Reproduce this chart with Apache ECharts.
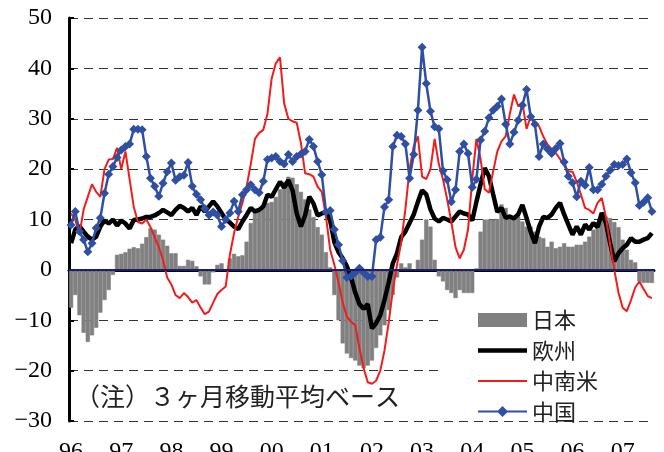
<!DOCTYPE html>
<html>
<head>
<meta charset="utf-8">
<script src="https://cdn.jsdelivr.net/npm/echarts@6/dist/echarts.min.js"></script>
<style>
  html, body { margin: 0; padding: 0; background: #fff; }
  #chart { width: 664px; height: 452px; }
</style>
</head>
<body>
<div id="chart"></div>
<script>
// 月次、96年1月〜07年8月（3ヶ月移動平均、前年比 %）
const yearLabels = ['96', '97', '98', '99', '00', '01', '02', '03', '04', '05', '06', '07']
const yTicks = [-30, -20, -10, 0, 10, 20, 30, 40, 50]

const japan = [
  -7.5, -5, -9, -12.5, -14.3, -13, -11.5, -8.5, -6, -4, -1, 3.0,
  3.2, 3.5, 4.2, 4.5, 4.3, 5.2, 6.5, 8.3, 8, 7, 6, 4.8,
  3.3, 3.3, 0.8, 0.8, 2, 1.8, 0.7, -1.3, -2.9, -2.9, -0.5, 1,
  1.3, 0.1, 2.3, 3.2, 2.7, 2.9, 5.6, 9.3, 11.4, 11.6, 12.9, 13.3,
  13.5, 14.5, 16, 17.5, 18.5, 18.3, 17, 15.5, 14, 12, 10.5, 8.5,
  7, 3.5, 0.5, -5, -10, -14.6, -16.6, -17.5, -18, -19, -19.5, -19,
  -18, -15.5, -13, -11, -8, -5, -1.5, 1.3, 0.5, 1.3, 0, 2,
  6, 10, 8.6, 2, -1.3, -2.3, -4, -4.6, -5.6, -4, -4.6, -4.6,
  -4.6, 0.3, 7.6, 10, 10, 10, 10.1, 13, 12.3, 10.6, 10.6, 10.6,
  9.6, 8.6, 8.6, 7.6, 6.6, 6.3, 4.6, 5.6, 4.3, 4.6, 5.3, 4.6,
  4.6, 5, 5, 5.6, 6.6, 8, 9.5, 10.6, 10.6, 10.3, 9.5, 8.5,
  6, 4, 2, 1.5, -2.3, -2.6, -2.6, -2.6
]
const europe = [
  5.3, 8, 8.7, 7.6, 6.6, 6, 6.6, 8.6, 9.8, 9.2, 10, 8.8,
  9.8, 9.2, 8.2, 9.9, 10, 10.2, 10.5, 10.5, 10.8, 11.3, 11.9, 11.4,
  10.9, 11.9, 12.7, 12.3, 11.6, 12.3, 10.9, 12.6, 11.6, 12.6, 13.6, 12.6,
  11.3, 10, 9.4, 8.6, 8.1, 9.6, 10.9, 12.3, 11.6, 11.9, 12.6, 14.9,
  14.5, 16, 17.5, 16.3, 17.8, 15.8, 11.2, 8.6, 10.8, 14.5, 13.2, 10.8,
  11.2, 11.5, 9.8, 5.5, 3.5, 2.3, 0.7, -1.5, -4.5, -6.8, -7.7, -6.8,
  -11.6, -10.6, -9, -6, -2.5, 1.3, 3.3, 6.5, 7.6, 9.3, 11, 13.5,
  15.8, 15, 12, 10.2, 9.6, 10.3, 10, 9.6, 10.6, 11.6, 11.2, 11,
  9.8, 13.5, 17, 20.2, 18.6, 15, 11.5, 12.3, 10.3, 10.6, 10.2, 11,
  12.9, 10.3, 7.5, 5.3, 8.6, 10.5, 10.3, 11, 12.3, 13.3, 11, 9,
  7, 8.6, 7, 9, 8, 9.3, 8.5, 11.3, 9.3, 5.3, 1.7, 3.3,
  4.3, 5, 6.3, 5.6, 5.6, 6, 6.3, 7.3
]
const latam = [
  11.2, 10, 7, 12, 14.5, 17, 15.5, 14.5, 20, 21.9, 22, 24.2,
  20, 23.5, 18, 12.5, 9.5, 9.2, 10, 8.5, 6.5, 4.5, 2, -1.5,
  -2.9, -5, -5.6, -4.6, -5.4, -6.5, -6, -7.5, -8.8, -8.3, -6.5, -4.8,
  -4, -3.3, 3, 7.3, 10.5, 13.3, 16.5, 21, 26, 27.2, 27.8, 31,
  38, 41, 42.2, 33, 30, 29.5, 29.2, 25.2, 19.2, 19, 18.5, 16.5,
  15.5, 10.5, 4, 1, -2.5, -6.5, -9.3, -10.3, -11, -15.5, -19.5, -22.3,
  -22.6, -22, -20, -16, -10.5, -4, 1, 5.5, 12, 20, 24.5, 26.5,
  18.5, 18, 20, 26, 21, 18, 14, 9.5, 4.5, 2.3, 4, 8,
  18, 26, 22, 16, 15.3, 19.5, 23.5, 25.5, 26.5, 31, 34.8, 32.5,
  33.2, 28, 30.5, 29.2, 28.5, 26.5, 24.9, 24, 23.2, 22, 20.7, 19.6,
  19.5, 17.5, 15, 12.3, 11.9, 11.2, 13.3, 14.3, 10.5, 5, 0, -4.5,
  -7.5, -8.2, -6, -3.5, -2.3, -3.8, -5.2, -5.6
]
const china = [
  8.9, 11.6, 7.6, 6, 3.6, 5.3, 8.3, 10.3, 15.2, 19, 20.5, 22.3,
  23.8, 24.5, 25, 27.9, 27.9, 27.8, 22.5, 18.2, 16.6, 14.6, 17.2, 19.5,
  21.2, 17.8, 18.5, 18.8, 21.3, 16.6, 15, 13.9, 12.2, 10.9, 11.5, 10.9,
  8.6, 10, 11.3, 13.6, 11.6, 14.9, 15.9, 16.9, 15.9, 15.3, 17.6, 21.9,
  22.2, 22.5, 21.5, 21, 22.9, 21.5, 22.5, 23, 23.5, 25.9, 24.5, 21.5,
  18.9, 11.5, 11.8, 8, 5, 1.8, -1.5, -1.2, -0.5, 0.3, -0.5, -1.3,
  -1.3, 6, 6.5, 12.5, 13.9, 24.5, 26.7, 26.5, 25, 18.2, 22.9, 31.7,
  44.2, 37, 31.5, 28.4, 28, 19.7, 17.9, 13.5, 15.9, 23.5, 25, 23.1,
  16.4, 18, 25.8, 27.5, 30.2, 31.7, 32.5, 33.9, 28.9, 25, 27.3, 29.7,
  32.7, 35.8, 30.4, 28.9, 22.5, 25, 24, 23.1, 24.1, 25.1, 21.4, 18.6,
  17.3, 14.5, 17.6, 16.8, 20.3, 15.9, 15.9, 17, 18.6, 19.8, 20.9, 20.7,
  20.9, 22, 19.3, 17.3, 12.8, 13.4, 14.3, 11.6
]

const months = []
yearLabels.forEach((y) => {
  for (let m = 1; m <= 12; m++) months.push(y + '/' + String(m).padStart(2, '0'))
})
months.length = japan.length

const serif = "'Liberation Serif', 'DejaVu Serif', serif"
const cjk = "'Noto Sans CJK JP', sans-serif"
const everyYear = (index) => index % 12 === 0

// 凡例アイコン（線の太さそのままの横長パス）
const iconThick = 'path://M0,0 L49,0 L49,4.5 L0,4.5 Z'
const iconThin = 'path://M0,0 L49,0 L49,2 L0,2 Z'
const iconDiamond = 'path://M0,4 L20,4 L24.5,-0.5 L29,4 L49,4 L49,6 L29,6 L24.5,10.5 L20,6 L0,6 Z'

const chart = echarts.init(document.getElementById('chart'), null, { renderer: 'canvas' })
chart.setOption({
  animation: false,
  backgroundColor: '#fff',
  grid: { left: 69, right: 10, top: 18, bottom: 31, containLabel: false, outerBoundsMode: 'none' },
  legend: {
    orient: 'vertical',
    left: 438,
    top: 309,
    padding: [0, 20, 0, 40],
    itemWidth: 49,
    itemHeight: 14,
    itemGap: 8.5,
    symbolKeepAspect: true,
    itemStyle: { borderWidth: 0 },
    textStyle: { fontFamily: cjk, fontSize: 22, color: '#222' },
    data: [
      { name: '日本', icon: 'rect' },
      { name: '欧州', icon: iconThick },
      { name: '中南米', icon: iconThin },
      { name: '中国', icon: iconDiamond }
    ]
  },
  graphic: [
    {
      type: 'rect',
      z: 1,
      silent: true,
      shape: { x: 438, y: 314, width: 210, height: 105 },
      style: { fill: '#fff' }
    },
    {
      type: 'text',
      left: 75,
      top: 384,
      style: { text: '（注）３ヶ月移動平均ベース', font: '25px ' + cjk, fill: '#222' }
    }
  ],
  xAxis: {
    type: 'category',
    data: months,
    boundaryGap: true,
    axisLine: { lineStyle: { color: '#000', width: 3 } },
    axisTick: { inside: true, length: 7, interval: everyYear, alignWithLabel: false, lineStyle: { color: '#000', width: 2 } },
    axisLabel: {
      interval: everyYear,
      formatter: (value) => value.slice(0, 2),
      margin: 19,
      fontFamily: serif,
      fontSize: 24,
      color: '#000'
    },
    splitLine: { show: false }
  },
  yAxis: {
    type: 'value',
    min: yTicks[0],
    max: yTicks[yTicks.length - 1],
    interval: 10,
    axisLine: { show: true, lineStyle: { color: '#000', width: 3 } },
    axisTick: { show: true, inside: true, length: 5, lineStyle: { color: '#000', width: 2 } },
    axisLabel: {
      margin: 17,
      fontFamily: serif,
      fontSize: 24,
      color: '#000',
      formatter: (v) => (v < 0 ? '\u2212' + (-v) : String(v))
    },
    splitLine: { lineStyle: { color: '#333', width: 1, type: [9, 6] } }
  },
  series: [
    {
      name: '日本',
      type: 'bar',
      data: japan,
      barCategoryGap: '0%',
      itemStyle: { color: '#808080', borderColor: '#808080', borderWidth: 0.6 },
      markLine: {
        silent: true,
        symbol: 'none',
        label: { show: false },
        lineStyle: { color: '#1c1c70', width: 2, type: 'solid' },
        data: [{ yAxis: 0 }]
      }
    },
    {
      name: '欧州',
      type: 'line',
      data: europe,
      symbol: 'none',
      itemStyle: { color: '#000' },
      lineStyle: { color: '#000', width: 4.5 }
    },
    {
      name: '中南米',
      type: 'line',
      data: latam,
      symbol: 'none',
      itemStyle: { color: '#f21c1c' },
      lineStyle: { color: '#f21c1c', width: 2 }
    },
    {
      name: '中国',
      type: 'line',
      data: china,
      symbol: 'diamond',
      symbolSize: 9,
      showAllSymbol: true,
      itemStyle: { color: '#2f4fa2' },
      lineStyle: { color: '#2f4fa2', width: 2.5 }
    }
  ]
})
</script>
</body>
</html>
